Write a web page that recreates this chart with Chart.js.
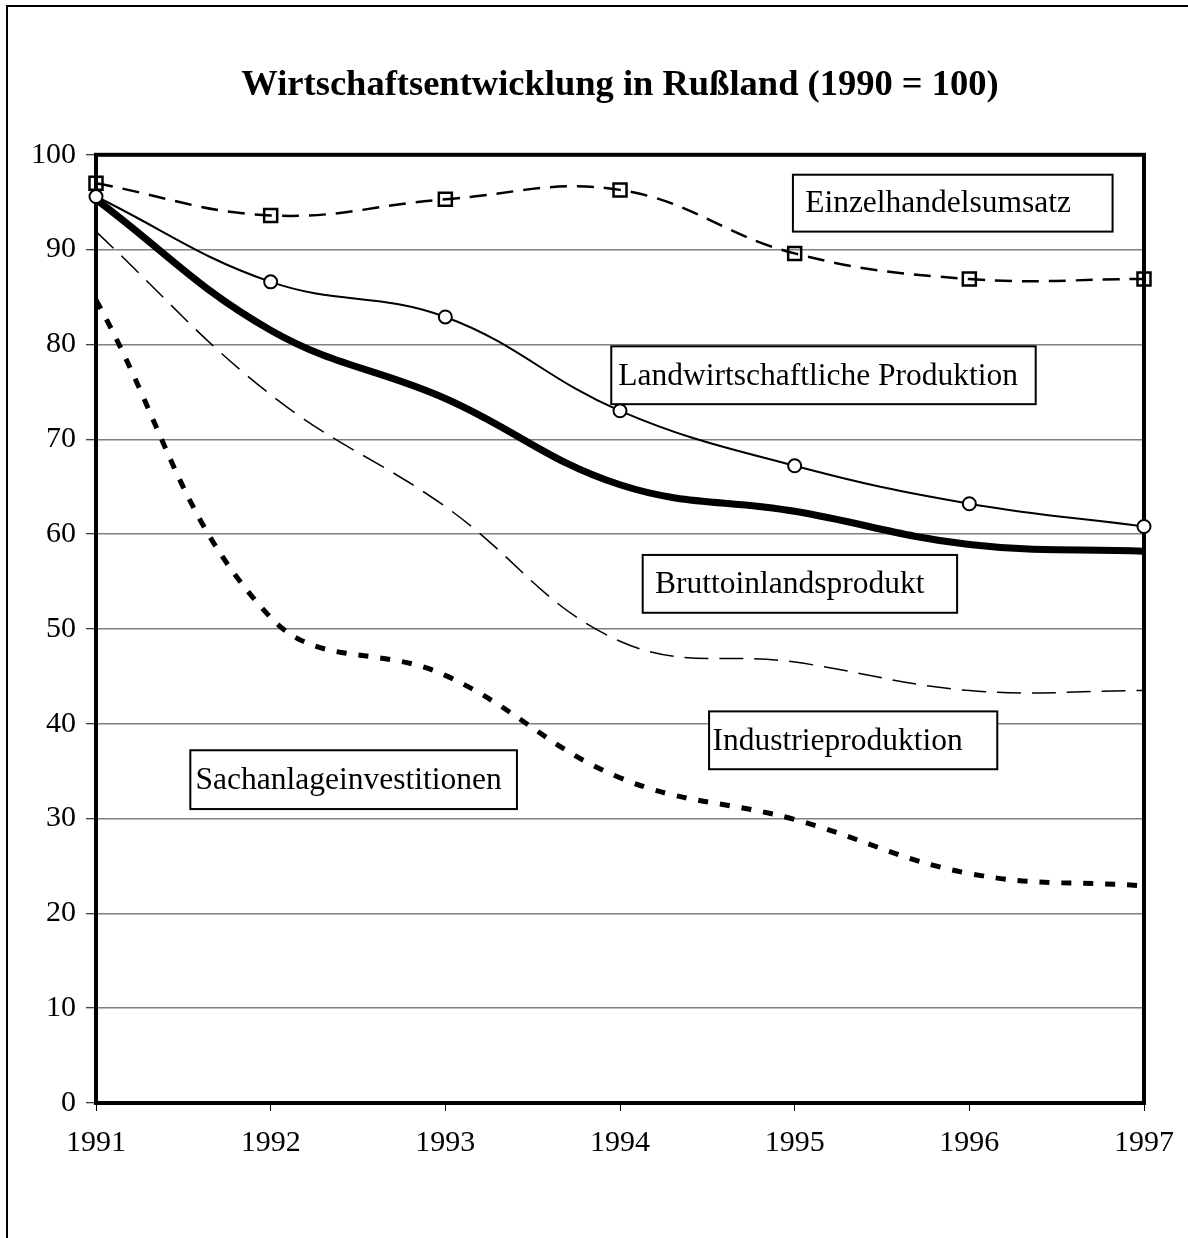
<!DOCTYPE html>
<html>
<head>
<meta charset="utf-8">
<script src="https://cdn.jsdelivr.net/npm/chart.js@4.4.1/dist/chart.umd.min.js"></script>
<style>
  html, body { margin: 0; padding: 0; background: #fff; }
  #wrap { width: 1188px; height: 1238px; position: relative; }
</style>
</head>
<body>
<div id="wrap"><canvas id="chart"></canvas></div>
<script>
// Jahre (x-Achse)
const years = ["1991", "1992", "1993", "1994", "1995", "1996", "1997"];

// Reihen, 1990 = 100
const einzelhandel = [97.0, 93.6, 95.3, 96.3, 89.6, 86.9, 86.9];
const landwirtschaft = [95.6, 86.6, 82.9, 73.0, 67.2, 63.2, 60.8];
const bip = [95.3, 81.5, 74.3, 65.2, 62.4, 58.9, 58.2];
const industrie = [91.9, 74.7, 62.9, 48.7, 46.5, 43.5, 43.5];
const sachanlagen = [84.7, 51.2, 45.1, 34.3, 29.9, 24.2, 22.9];

// y-Achse
const yTicks = [0, 10, 20, 30, 40, 50, 60, 70, 80, 90, 100];

const seriesNames = ["Einzelhandelsumsatz", "Landwirtschaftliche Produktion", "Bruttoinlandsprodukt", "Industrieproduktion", "Sachanlageinvestitionen"];

// Beschriftungskästen: links/rechts als Jahr-Index, oben/unten als Wert
const labelBoxes = [
    { text: seriesNames[0], left: 3.99, right: 5.82, top: 97.9, bottom: 91.9, textX: 4.06 },
    { text: seriesNames[1], left: 2.95, right: 5.38, top: 79.8, bottom: 73.7, textX: 2.99 },
    { text: seriesNames[2], left: 3.13, right: 4.93, top: 57.8, bottom: 51.7, textX: 3.20 },
    { text: seriesNames[3], left: 3.51, right: 5.16, top: 41.3, bottom: 35.2, textX: 3.53 },
    { text: seriesNames[4], left: 0.54, right: 2.41, top: 37.2, bottom: 31.0, textX: 0.57 }
];

const FONT = "'Liberation Serif', 'Times New Roman', serif";

// Rahmen um das ganze Bild und um die Zeichenfläche
const framePlugin = {
    id: "frames",
    beforeDraw(chart) {
        const ctx = chart.ctx;
        ctx.save();
        ctx.fillStyle = "#fff";
        ctx.fillRect(0, 0, chart.width, chart.height);
        ctx.strokeStyle = "#000";
        ctx.lineWidth = 2;
        ctx.beginPath();
        ctx.moveTo(7, chart.height);
        ctx.lineTo(7, 6);
        ctx.lineTo(chart.width, 6);
        ctx.stroke();
        ctx.restore();
    },
    beforeDatasetsDraw(chart) {
        const { ctx, chartArea } = chart;
        ctx.save();
        ctx.strokeStyle = "#000";
        ctx.lineWidth = 4;
        ctx.strokeRect(chartArea.left, chartArea.top, chartArea.right - chartArea.left, chartArea.bottom - chartArea.top);
        ctx.restore();
    }
};

// Kästen mit den Reihennamen
const boxPlugin = {
    id: "boxes",
    afterDatasetsDraw(chart) {
        const ctx = chart.ctx;
        const xs = chart.scales.x, ys = chart.scales.y;
        ctx.save();
        labelBoxes.forEach((b) => {
            let x0 = xs.getPixelForValue(b.left), x1 = xs.getPixelForValue(b.right);
            let y0 = ys.getPixelForValue(b.top), y1 = ys.getPixelForValue(b.bottom);
            ctx.fillStyle = "#fff";
            ctx.fillRect(x0, y0, x1 - x0, y1 - y0);
            ctx.strokeStyle = "#000";
            ctx.lineWidth = 2;
            ctx.strokeRect(x0, y0, x1 - x0, y1 - y0);
            ctx.fillStyle = "#000";
            ctx.font = "31.5px " + FONT;
            ctx.textBaseline = "middle";
            ctx.textAlign = "left";
            ctx.fillText(b.text, xs.getPixelForValue(b.textX), (y0 + y1) / 2 + 1);
        });
        ctx.restore();
    }
};

new Chart(document.getElementById("chart"), {
    type: "line",
    data: {
        labels: years,
        datasets: [
            {
                label: seriesNames[0],
                data: einzelhandel,
                borderColor: "#000",
                borderWidth: 2.5,
                borderDash: [17, 10],
                pointStyle: "rect",
                pointRadius: 9.2,
                pointBorderWidth: 2.5,
                pointBorderColor: "#000",
                pointBackgroundColor: "rgba(0,0,0,0)",
                tension: 0.4
            },
            {
                label: seriesNames[1],
                data: landwirtschaft,
                borderColor: "#000",
                borderWidth: 2,
                pointStyle: "circle",
                pointRadius: 6.5,
                pointBorderWidth: 2,
                pointBorderColor: "#000",
                pointBackgroundColor: "#fff",
                tension: 0.4
            },
            {
                label: seriesNames[2],
                data: bip,
                borderColor: "#000",
                borderWidth: 7,
                pointRadius: 0,
                tension: 0.4
            },
            {
                label: seriesNames[3],
                data: industrie,
                borderColor: "#000",
                borderWidth: 1.5,
                borderDash: [24, 11],
                pointRadius: 0,
                tension: 0.4
            },
            {
                label: seriesNames[4],
                data: sachanlagen,
                borderColor: "#000",
                borderWidth: 5,
                borderDash: [10, 12],
                pointRadius: 0,
                tension: 0.4
            }
        ]
    },
    options: {
        responsive: true,
        maintainAspectRatio: false,
        animation: false,
        layout: { padding: { left: 0, right: 43, top: 0, bottom: 0 } },
        plugins: {
            legend: { display: false },
            tooltip: { enabled: false },
            title: {
                display: true,
                // nur über der Zeichenfläche zentrieren
                fullSize: false,
                text: "Wirtschaftsentwicklung in Rußland (1990 = 100)",
                color: "#000",
                font: { family: FONT, size: 36.5, weight: "bold" },
                padding: { top: 64, bottom: 47 }
            }
        },
        scales: {
            x: {
                offset: false,
                border: { display: false },
                grid: { drawOnChartArea: false, drawTicks: true, tickLength: 8, tickColor: "#000", tickWidth: 1 },
                ticks: { color: "#000", font: { family: FONT, size: 30 }, padding: 14, maxRotation: 0 },
                afterFit(scale) { scale.height = 135; }
            },
            y: {
                min: 0,
                max: 100,
                border: { display: false },
                grid: { color: "#808080", lineWidth: 1.5, tickLength: 10, tickColor: "#000", tickWidth: 1 },
                afterBuildTicks(scale) { scale.ticks = yTicks.map((v) => ({ value: v })); },
                ticks: { color: "#000", font: { family: FONT, size: 30 }, padding: 10 },
                afterFit(scale) { scale.width = 96; }
            }
        }
    },
    plugins: [framePlugin, boxPlugin]
});
</script>
</body>
</html>
